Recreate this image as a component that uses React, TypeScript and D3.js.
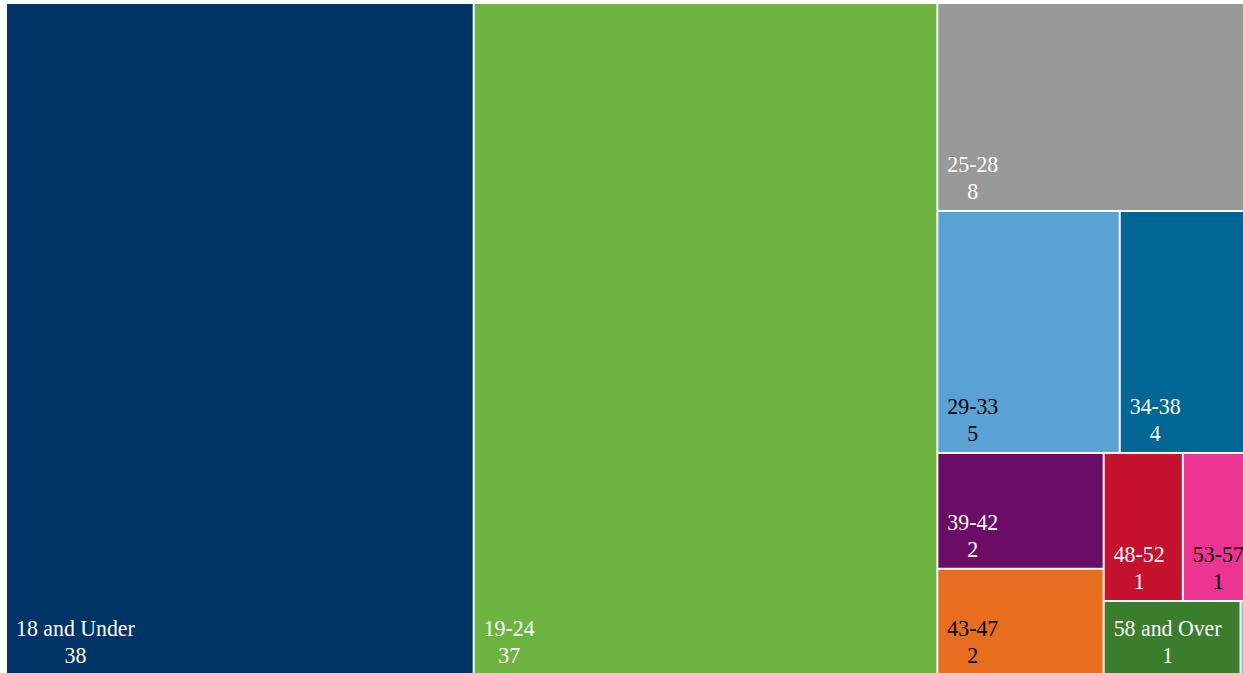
import React, { useEffect, useRef } from 'react';
import * as d3 from 'd3';

// age bands, their share (labels show the rounded value), cell colours
const ageGroups = ['18 and Under', '19-24', '25-28', '29-33', '34-38', '39-42', '43-47', '48-52', '53-57', '58 and Over', 'Unknown'];
const shares = [37.53, 37.21, 7.84, 5.27, 3.85, 2.3, 2.11, 1.4, 1.24, 1.21, 0.11];
const fills = ['#003366', '#6db33f', '#999999', '#5ba2d4', '#006694', '#6b0d66', '#e86e1f', '#c4122f', '#ec3592', '#3a7d2c', '#8fb6cc'];
const labelColors = ['#fff', '#fff', '#fff', '#000', '#fff', '#fff', '#000', '#fff', '#000', '#fff', '#fff'];

const width = 1243;
const height = 673;

const App = () => {
    const ref = useRef<SVGSVGElement>(null);

    useEffect(() => {
        const svg = d3.select(ref.current);
        svg.selectAll('*').remove();

        const data = ageGroups.map((name, i) => ({ name, value: shares[i], fill: fills[i], color: labelColors[i] }));

        const root = d3.hierarchy<any>({ children: data })
            .sum(d => d.value || 0)
            .sort((a, b) => (b.value || 0) - (a.value || 0));

        d3.treemap<any>()
            .tile(d3.treemapSquarify.ratio(1.2))
            .size([1245, 670])
            .paddingInner(2)(root);

        const g = svg.append('g').attr('transform', 'translate(7,4)');

        const cell = g.selectAll('g.cell')
            .data(root.leaves() as d3.HierarchyRectangularNode<any>[])
            .join('g')
            .attr('class', 'cell');

        cell.append('rect')
            .attr('x', d => d.x0)
            .attr('y', d => d.y0)
            .attr('width', d => d.x1 - d.x0)
            .attr('height', d => d.y1 - d.y0)
            .attr('fill', d => d.data.fill);

        // too-thin cells get no label
        const label = cell.filter(d => d.x1 - d.x0 > 40)
            .append('g')
            .attr('transform', d => `translate(${d.x0 + 9},${d.y1 - 38}) scale(0.91,1)`)
            .attr('font-family', '"Liberation Serif", "Times New Roman", serif')
            .attr('font-size', 24)
            .attr('fill', d => d.data.color);

        label.append('text')
            .attr('class', 'name')
            .text(d => d.data.name);

        label.append('text')
            .attr('class', 'num')
            .attr('y', 27)
            .attr('text-anchor', 'middle')
            .text(d => Math.round(d.data.value));

        label.each(function () {
            const sel = d3.select(this);
            const w = (sel.select('text.name').node() as SVGTextElement).getComputedTextLength();
            sel.select('text.num').attr('x', w / 2);
        });
    }, []);

    return (
        <div style={{ position: 'absolute', left: 0, top: 0 }}>
            <svg ref={ref} width={width} height={height} style={{ display: 'block', overflow: 'hidden' }} />
        </div>
    );
};

export default App;
